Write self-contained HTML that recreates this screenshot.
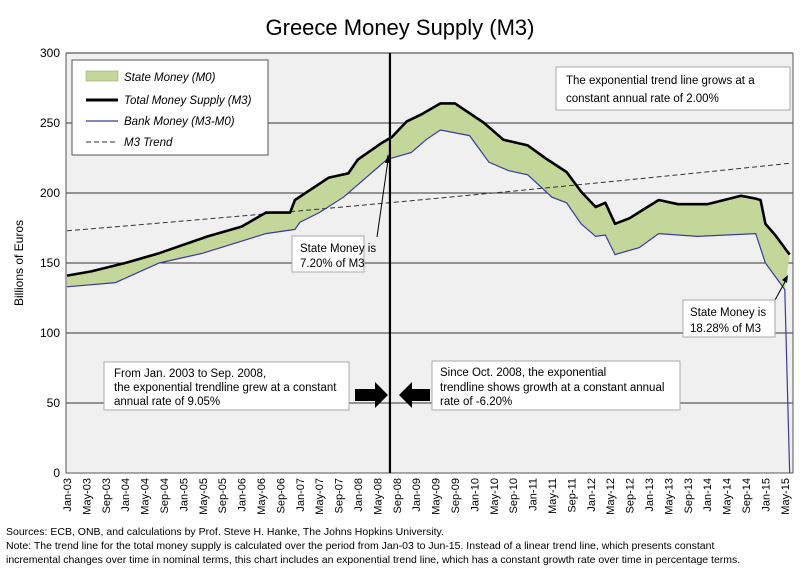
<!DOCTYPE html>
<html><head><meta charset="utf-8"><style>
body{margin:0;background:#fff;}
svg text{font-family:"Liberation Sans",sans-serif;}
.cal{font-family:"Liberation Sans",sans-serif;font-size:11.5px;}
</style></head><body>
<svg id="chart" width="800" height="580" viewBox="0 0 800 580">
<rect x="0" y="0" width="800" height="580" fill="#fff"/>
<text x="400" y="35" text-anchor="middle" font-size="22">Greece Money Supply (M3)</text>
<rect x="66" y="53" width="727" height="420" fill="#f0f0f0"/>
<g id="grid"></g>
<g id="series"></g>
<text transform="translate(23,263) rotate(-90)" text-anchor="middle" font-size="12">Billions of Euros</text>
<g id="yticks"></g>
<g id="xticks"></g>
<g>
<rect x="72" y="60" width="196" height="95" fill="#fff" stroke="#555"/>
<rect x="86" y="71" width="32" height="10" fill="#c4d79b" stroke="#8a9a60" stroke-width="0.5"/>
<text x="124" y="81" font-size="11.5" font-style="italic">State Money (M0)</text>
<line x1="86" y1="100" x2="118" y2="100" stroke="#000" stroke-width="3"/>
<text x="124" y="104" font-size="11.5" font-style="italic">Total Money Supply (M3)</text>
<line x1="86" y1="121" x2="118" y2="121" stroke="#3a3aa0" stroke-width="1.2"/>
<text x="124" y="125" font-size="11.5" font-style="italic">Bank Money (M3-M0)</text>
<line x1="86" y1="142" x2="118" y2="142" stroke="#333" stroke-dasharray="5,3"/>
<text x="124" y="146" font-size="11.5" font-style="italic">M3 Trend</text>
</g>
<g>
<rect x="556" y="67" width="234" height="43" fill="#fff" stroke="#aaa"/>
<text class="cal" x="566" y="84">The exponential trend line grows at a</text>
<text class="cal" x="566" y="102">constant annual rate of 2.00%</text>
</g>
<g id="annot"></g>
<g>
<line x1="377" y1="237" x2="388" y2="160" stroke="#000"/>
<polygon points="388,154 385,163 391,163" fill="#000"/>
<rect x="292" y="236" width="72" height="36" fill="#fff" stroke="#aaa"/>
<text class="cal" x="300" y="252">State Money is</text>
<text class="cal" x="300" y="267">7.20% of M3</text>
</g>
<g>
<line x1="775" y1="300" x2="786" y2="280" stroke="#000"/>
<polygon points="788,275 782,280 787,283" fill="#000"/>
<rect x="683" y="300" width="92" height="37" fill="#fff" stroke="#aaa"/>
<text class="cal" x="690" y="316">State Money is</text>
<text class="cal" x="690" y="332">18.28% of M3</text>
</g>
<g>
<rect x="104" y="362" width="245" height="48" fill="#fff" stroke="#aaa"/>
<text class="cal" x="114" y="377">From Jan. 2003 to Sep. 2008,</text>
<text class="cal" x="114" y="391">the exponential trendline grew at a constant</text>
<text class="cal" x="114" y="405">annual rate of 9.05%</text>
<polygon points="355,389 375,389 375,382 388,395 375,408 375,401 355,401" fill="#000"/>
</g>
<g>
<rect x="432" y="361" width="248" height="49" fill="#fff" stroke="#aaa"/>
<text class="cal" x="440" y="376">Since Oct. 2008, the exponential</text>
<text class="cal" x="440" y="391"> trendline shows growth at a constant annual</text>
<text class="cal" x="440" y="405">rate of -6.20%</text>
<polygon points="430,389 412,389 412,382 399,395 412,408 412,401 430,401" fill="#000"/>
</g>
<text x="6" y="535" font-size="10.5">Sources: ECB, ONB, and calculations by Prof. Steve H. Hanke, The Johns Hopkins University.</text>
<text x="6" y="549" font-size="10.5">Note: The trend line for the total money supply is calculated over the period from Jan-03 to Jun-15.  Instead of a linear trend line, which presents constant</text>
<text x="6" y="563" font-size="10.5">incremental changes over time in nominal terms, this chart includes  an exponential trend line, which has a constant growth rate over time in percentage terms.</text>
</svg>
<script>
const monthLabels=["Jan","May","Sep"];
const yTicks=[0,50,100,150,200,250,300];
const m3Months=[0,5,12,19,29,36,41,46,47,54,58,60,65,67,70,73,77,80,86,90,95,99,103,106,109,111,113,116,122,126,132,139,142,143,144,146,149];
const m3Values=[141,144,150,157,169,176,186,186,195,211,214,224,236,240,251,256,264,264,250,238,234,224,215,201,190,193,178,182,195,192,192,198,196,195,178,170,156];
const bankMonths=[0,10,19,28,41,47,48,52,57,60,66,71,74,77,83,87,91,95,100,103,106,109,111,113,118,122,130,142,144,148,149];
const bankValues=[133,136,150,157,171,174,179,186,197,206,224,229,238,245,241,222,216,213,197,193,178,169,170,156,161,171,169,171,150,131,0];
const trendStart=173, trendRate=0.02, trendMonths=150;
const breakMonth=67;
const NS="http://www.w3.org/2000/svg";
const X0=67, DX=4.85, Y0=473, SY=1.4;
const xs=i=>X0+i*DX, ys=v=>Y0-v*SY;
function mk(tag,attrs,parent){const e=document.createElementNS(NS,tag);for(const k in attrs)e.setAttribute(k,attrs[k]);document.getElementById(parent).appendChild(e);return e;}
yTicks.forEach(v=>{
 if(v>0){const g=mk('line',{x1:66,x2:793,y1:ys(v),y2:ys(v),stroke:'#333','stroke-width':1},'grid');
 
 }
 const t=mk('text',{x:60,y:ys(v)+4,'text-anchor':'end','font-size':12},'yticks');t.textContent=v;
 
 
});
const ax=mk('path',{d:'M66,53 V473 H793 V53',fill:'none',stroke:'#555'},'grid');


for(let i=0;i<=148;i+=4){
 const yr=3+Math.floor(i/12);const lab=monthLabels[(i%12)/4]+'-'+String(yr).padStart(2,'0');
 const x=xs(i);
 const t=mk('text',{transform:`translate(${x+4},478) rotate(-90)`,'text-anchor':'end','font-size':11},'xticks');t.textContent=lab;
 
 
}
// fill between M3 and bank (exclude final collapse point)
let fp=m3Months.map((m,i)=>xs(m)+','+ys(m3Values[i]));
for(let i=bankMonths.length-2;i>=0;i--)fp.push(xs(bankMonths[i])+','+ys(bankValues[i]));
const f=mk('polygon',{points:fp.join(' '),fill:'#c4d79b'},'series');


let tp=[];for(let m=0;m<trendMonths;m+=4)tp.push(xs(m)+','+ys(trendStart*Math.pow(1+trendRate,m/12)));
tp.push(xs(trendMonths-1)+','+ys(trendStart*Math.pow(1+trendRate,(trendMonths-1)/12)));
const tr=mk('polyline',{points:tp.join(' '),fill:'none',stroke:'#333','stroke-dasharray':'5,3','stroke-width':1},'series');


const bl=mk('polyline',{points:bankMonths.map((m,i)=>xs(m)+','+ys(bankValues[i])).join(' '),fill:'none',stroke:'#3a3aa0','stroke-width':1.2},'series');


const ml=mk('polyline',{points:m3Months.map((m,i)=>xs(m)+','+ys(m3Values[i])).join(' '),fill:'none',stroke:'#000','stroke-width':2.6,'stroke-linejoin':'round'},'series');


const vb=mk('line',{x1:xs(breakMonth)-2,x2:xs(breakMonth)-2,y1:53,y2:473,stroke:'#000','stroke-width':2.2},'series');


</script>
</body></html>
